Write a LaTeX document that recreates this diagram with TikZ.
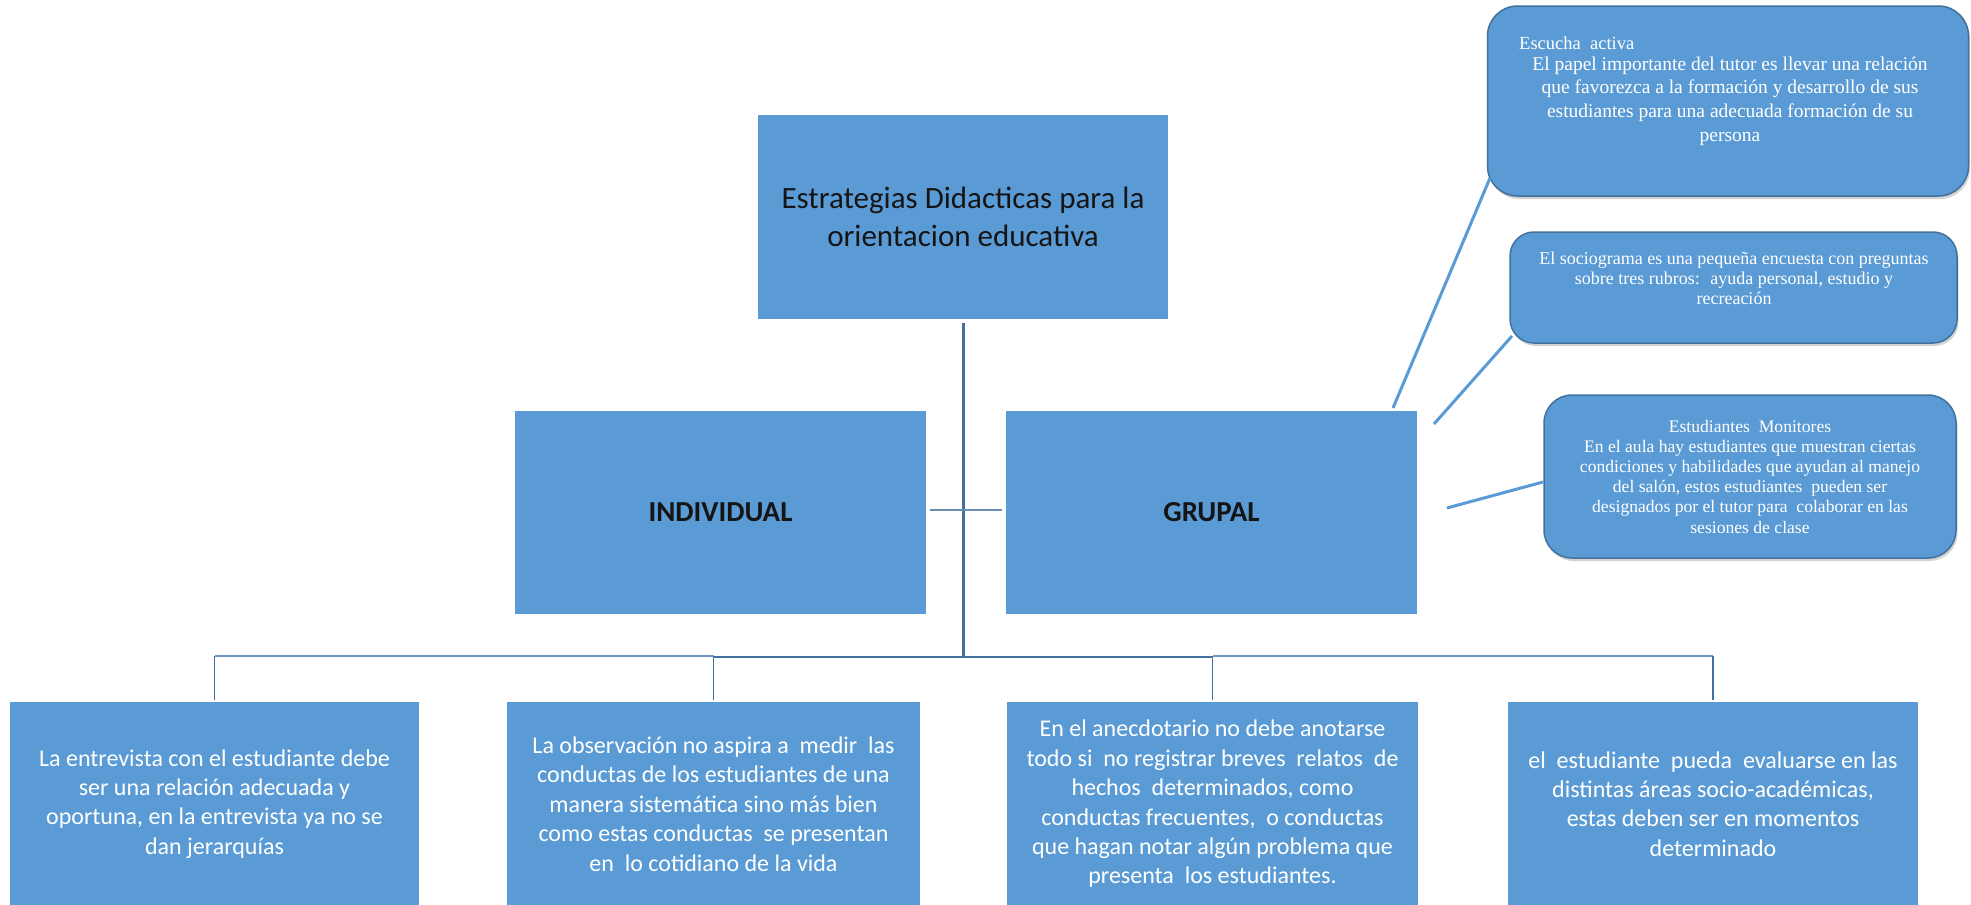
\documentclass[tikz,border=0pt]{standalone}
\usepackage{fontspec}
\setmainfont{Carlito}
\newfontfamily\smallserif{Liberation Serif}
\usetikzlibrary{shadows,calc}
\definecolor{boxblue}{HTML}{5B9BD5}
\definecolor{linedark}{HTML}{41719C}
\definecolor{linelight}{HTML}{7396C2}
\definecolor{txtdark}{HTML}{151515}
\begin{document}
\begin{tikzpicture}[x=1pt,y=-1pt,
  sqbox/.style={fill=boxblue, draw=none, inner sep=0pt, align=center},
  bigtxt/.style={text=txtdark, font=\fontsize{31}{38}\selectfont},
  boldtxt/.style={text=txtdark, font=\bfseries\fontsize{29}{35}\selectfont},
  leaftxt/.style={text=white, font=\fontsize{24}{29.4}\selectfont},
  rbox/.style={fill=boxblue, draw=linedark, line width=1.5pt, rounded corners=30pt, inner sep=0pt,
     drop shadow={opacity=0.35, shadow xshift=1.5pt, shadow yshift=-3pt}},
  notetxt/.style={text=white, align=center, inner sep=0pt},
  trunk/.style={draw=linedark, line width=3pt},
  busdark/.style={draw=linedark, line width=2.6pt},
  buslight/.style={draw=linelight, line width=1.6pt},
  drop/.style={draw=linedark, line width=1.6pt},
  tickline/.style={draw=linedark!80, line width=1.3pt},
  feeler/.style={draw=boxblue, line width=3pt}
]
\useasboundingbox (0,0) rectangle (1971,905);

% main boxes
\node[sqbox, bigtxt, minimum width=410pt, minimum height=204pt] (top) at (963,217)
  {Estrategias Didacticas para la\\orientacion educativa};
\node[sqbox, boldtxt, minimum width=411pt, minimum height=203pt] (indiv) at (720.5,512) {INDIVIDUAL};
\node[sqbox, boldtxt, minimum width=411pt, minimum height=203pt] (grupal) at (1211.5,512) {GRUPAL};

% bottom boxes
\node[sqbox, leaftxt, minimum width=409pt, minimum height=204pt] (b1) at (214.5,804)
  {La entrevista con el estudiante debe\\ser una relación adecuada y\\oportuna, en la entrevista ya no se\\dan jerarquías};
\node[sqbox, leaftxt, minimum width=413pt, minimum height=204pt] (b2) at (713.5,804)
  {La observación no aspira a \ medir \ las\\conductas de los estudiantes de una\\manera sistemática sino más bien\\como estas conductas \ se presentan\\en \ lo cotidiano de la vida};
\node[sqbox, leaftxt, minimum width=411pt, minimum height=204pt] (b3) at (1212.5,804)
  {En el anecdotario no debe anotarse\\todo si \ no registrar breves \ relatos \ de\\hechos \ determinados, como\\conductas frecuentes, \ o conductas\\que hagan notar algún problema que\\presenta \ los estudiantes.};
\node[sqbox, leaftxt, minimum width=410pt, minimum height=204pt] (b4) at (1713,804)
  {el \ estudiante \ pueda \ evaluarse en las\\distintas áreas socio-académicas,\\estas deben ser en momentos\\determinado};

% right rounded boxes
\node[rbox, minimum width=481pt, minimum height=190pt] (esc) at (1728,101) {};
\node[notetxt, anchor=west, font=\smallserif\fontsize{18.5}{23.5}\selectfont] (esct) at (1519,43) {Escucha \ activa};
\node[notetxt, font=\smallserif\fontsize{19.5}{23.8}\selectfont] (escb) at (1730,101)
  {El papel importante del tutor es llevar una relación\\que favorezca a la formación y desarrollo de sus\\estudiantes para una adecuada formación de su\\persona};

\node[rbox, rounded corners=24pt, minimum width=447pt, minimum height=111pt] (soc) at (1733.5,287.5) {};
\node[notetxt, font=\smallserif\fontsize{18}{20}\selectfont] (soct) at (1734,278)
  {El sociograma es una pequeña encuesta con preguntas\\sobre tres rubros: \ ayuda personal, estudio y\\recreación};

\node[rbox, rounded corners=28pt, minimum width=412pt, minimum height=163pt] (mon) at (1750,476.5) {};
\node[notetxt, font=\smallserif\fontsize{17.6}{20.2}\selectfont] (mont) at (1750,476.5)
  {Estudiantes \ Monitores\\En el aula hay estudiantes que muestran ciertas\\condiciones y habilidades que ayudan al manejo\\del salón, estos estudiantes \ pueden ser\\designados por el tutor para \ colaborar en las\\sesiones de clase};

% trunk and bus
\coordinate (busmid) at (963,657);
\draw[trunk] ($(top.south)+(0,4)$) -- (busmid);
\draw[buslight] (b1.north |- busmid) ++(0,-1) -- ($(b2.north |- busmid)+(0,-1)$);
\draw[busdark] (b2.north |- busmid) -- (b3.north |- busmid);
\draw[buslight] (b3.north |- busmid) ++(0,-1) -- ($(b4.north |- busmid)+(0,-1)$);
\foreach \b in {b1,b2,b3,b4}
  \draw[drop] ($(\b.north |- busmid)+(0,-1)$) -- ($(\b.north)+(0,-2)$);

% tick between INDIVIDUAL and GRUPAL
\draw[tickline] ($(indiv.east)+(4,-2)$) -- ($(grupal.west)+(-4,-2)$);

% feelers from GRUPAL towards the right boxes
\coordinate (f1a) at (1393,408); \coordinate (f1b) at (1490,178);
\coordinate (f2a) at (1434,424); \coordinate (f2b) at (1512,336);
\coordinate (f3a) at (1447,508); \coordinate (f3b) at (1543,482);
\draw[feeler] (f1a) -- (f1b);
\draw[feeler] (f2a) -- (f2b);
\draw[feeler] (f3a) -- (f3b);
\end{tikzpicture}
\end{document}
